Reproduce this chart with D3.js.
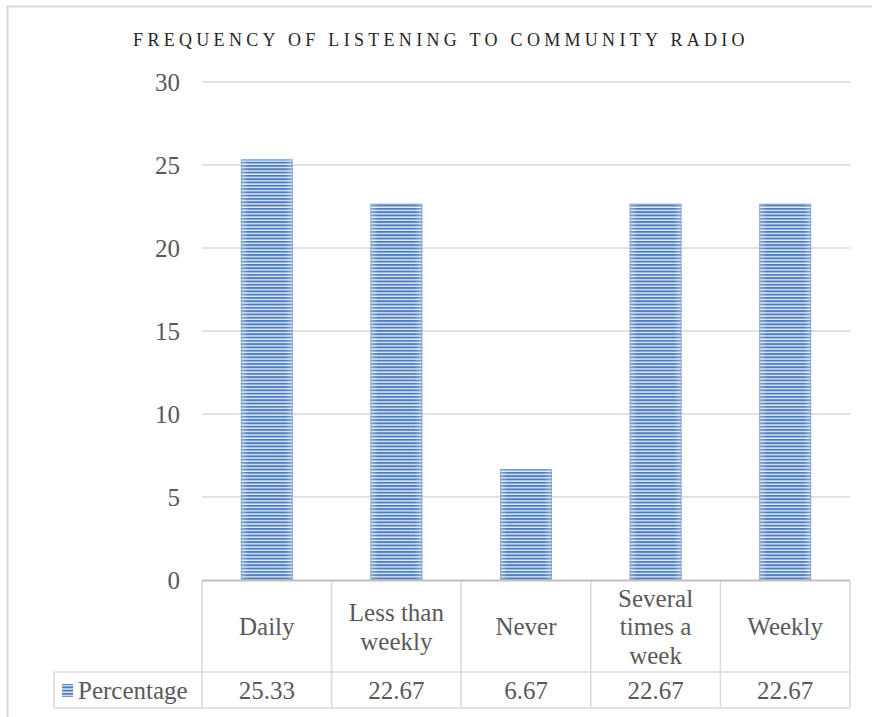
<!DOCTYPE html>
<html><head><meta charset="utf-8">
<script src="https://cdn.jsdelivr.net/npm/d3@7"></script>
<style>
html,body{margin:0;padding:0;background:#fff;}
svg{display:block;}
</style></head>
<body>
<svg id="chart" width="872" height="717"></svg>
<script>
const title = "FREQUENCY OF LISTENING TO COMMUNITY RADIO";
const categories = ["Daily", "Less than weekly", "Never", "Several times a week", "Weekly"];
const categoryLines = [["Daily"], ["Less than", "weekly"], ["Never"], ["Several", "times a", "week"], ["Weekly"]];
const seriesName = "Percentage";
const values = [25.33, 22.67, 6.67, 22.67, 22.67];
const valueLabels = ["25.33", "22.67", "6.67", "22.67", "22.67"];
const yTicks = [0, 5, 10, 15, 20, 25, 30];

const svg = d3.select("#chart");
const textColor = "#595959";
const gridColor = "#d9d9d9";
const blue = "#4a7dc0";
const labelFont = "'Liberation Serif', serif";
const fs = 25;

const defs = svg.append("defs");
const pat = defs.append("pattern").attr("id", "stripes")
  .attr("patternUnits", "userSpaceOnUse").attr("width", 8).attr("height", 3.3);
pat.append("rect").attr("width", 8).attr("height", 3.3).attr("fill", "#e3e9f2");
pat.append("rect").attr("width", 8).attr("height", 1.9).attr("fill", blue);
const grad = defs.append("linearGradient").attr("id", "edge").attr("x1", 0).attr("x2", 1).attr("y1", 0).attr("y2", 0);
grad.append("stop").attr("offset", 0).attr("stop-color", "#fff").attr("stop-opacity", 0.35);
grad.append("stop").attr("offset", 0.15).attr("stop-color", "#fff").attr("stop-opacity", 0);
grad.append("stop").attr("offset", 0.85).attr("stop-color", "#fff").attr("stop-opacity", 0);
grad.append("stop").attr("offset", 1).attr("stop-color", "#fff").attr("stop-opacity", 0.35);

// outer chart border
svg.append("path").attr("d", "M7.5,717 V6.5 H872").attr("fill", "none").attr("stroke", gridColor).attr("stroke-width", 2);

const x = d3.scaleBand().domain(categories).range([202, 850]).paddingInner(0.6).paddingOuter(0.3);
const y = d3.scaleLinear().domain([0, 30]).range([580, 82]);

// title
svg.append("text").attr("x", 441).attr("y", 46).attr("text-anchor", "middle")
  .attr("font-family", "'Liberation Serif', serif").attr("font-size", 18)
  .attr("letter-spacing", 4.3).attr("fill", "#262626").text(title);

// gridlines
svg.append("g").selectAll("line").data(yTicks.filter(d => d > 0)).join("line")
  .attr("x1", 202).attr("x2", 850).attr("y1", d => y(d)).attr("y2", d => y(d))
  .attr("stroke", gridColor).attr("stroke-width", 1.5);

// y axis labels
const yAxis = d3.axisLeft(y).tickValues(yTicks).tickSize(0).tickPadding(0);
const ya = svg.append("g").attr("transform", "translate(180,0)").call(yAxis);
ya.select(".domain").remove();
ya.selectAll("text").attr("font-family", labelFont).attr("font-size", fs).attr("fill", textColor).attr("dy", "0.35em");

// bars
const bars = svg.append("g");
bars.selectAll("rect.b").data(categories).join("rect").attr("class", "b")
  .attr("x", d => x(d)).attr("width", x.bandwidth())
  .attr("y", (d, i) => y(values[i])).attr("height", (d, i) => y(0) - y(values[i]))
  .attr("fill", "url(#stripes)");
bars.selectAll("rect.g").data(categories).join("rect").attr("class", "g")
  .attr("x", d => x(d)).attr("width", x.bandwidth())
  .attr("y", (d, i) => y(values[i])).attr("height", (d, i) => y(0) - y(values[i]))
  .attr("fill", "url(#edge)");
bars.selectAll("rect.o").data(categories).join("rect").attr("class", "o")
  .attr("x", d => x(d) + 0.5).attr("width", x.bandwidth() - 1)
  .attr("y", (d, i) => y(values[i]) + 0.5).attr("height", (d, i) => y(0) - y(values[i]) - 1)
  .attr("fill", "none").attr("stroke", "#6f95c9").attr("stroke-width", 1).attr("stroke-opacity", 0.6);

// data table
const step = x.step();
const tableTop = 581, rowMid = 672, tableBottom = 708, tableLeft = 54;
const tbl = svg.append("g").attr("stroke", gridColor).attr("stroke-width", 1.5).attr("fill", "none");
svg.append("line").attr("x1", 202).attr("x2", 850).attr("y1", 580.5).attr("y2", 580.5)
  .attr("stroke", "#bfbfbf").attr("stroke-width", 2);
const bounds = d3.range(categories.length + 1).map(i => 202 + i * step);
tbl.selectAll("line.v").data(bounds).join("line").attr("class", "v")
  .attr("x1", d => d).attr("x2", d => d).attr("y1", tableTop).attr("y2", tableBottom);
tbl.append("line").attr("x1", tableLeft).attr("x2", 850).attr("y1", rowMid).attr("y2", rowMid);
tbl.append("line").attr("x1", tableLeft).attr("x2", 850).attr("y1", tableBottom).attr("y2", tableBottom);
tbl.append("line").attr("x1", tableLeft).attr("x2", tableLeft).attr("y1", rowMid).attr("y2", tableBottom);

// category labels
const lh = 28.5;
const catG = svg.append("g").attr("font-family", labelFont).attr("font-size", fs).attr("fill", textColor).attr("text-anchor", "middle");
categories.forEach((c, i) => {
  const lines = categoryLines[i];
  const cx = x(c) + x.bandwidth() / 2;
  const cy = (tableTop + rowMid) / 2;
  lines.forEach((l, j) => {
    catG.append("text").attr("x", cx).attr("y", cy + (j - (lines.length - 1) / 2) * lh).attr("dy", "0.35em").text(l);
  });
});

// values row
const valG = svg.append("g").attr("font-family", labelFont).attr("font-size", fs).attr("fill", textColor).attr("text-anchor", "middle");
categories.forEach((c, i) => {
  valG.append("text").attr("x", x(c) + x.bandwidth() / 2).attr("y", (rowMid + tableBottom) / 2).attr("dy", "0.35em").text(valueLabels[i]);
});

// legend key + series name
svg.append("rect").attr("x", 62).attr("y", 684).attr("width", 11).attr("height", 13).attr("fill", "url(#stripes)");
svg.append("text").attr("x", 78).attr("y", (rowMid + tableBottom) / 2).attr("dy", "0.35em")
  .attr("font-family", labelFont).attr("font-size", fs).attr("fill", textColor).text(seriesName);
</script>
</body></html>
